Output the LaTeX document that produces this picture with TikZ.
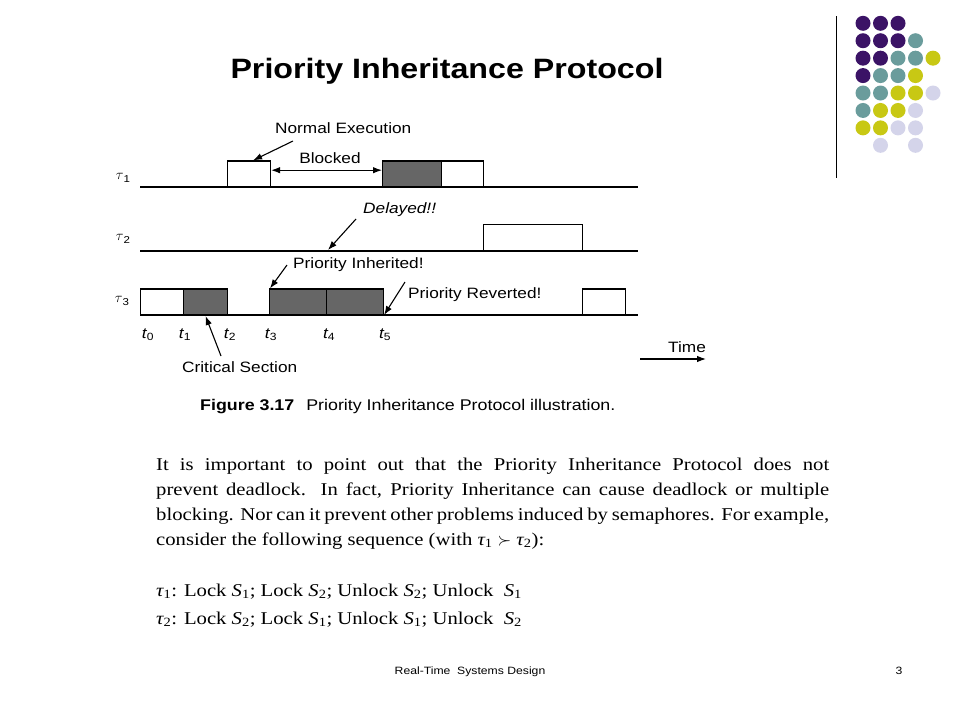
\documentclass[tikz,border=0pt]{standalone}
\usepackage{fontspec}
\setmainfont[FakeStretch=1.15]{Liberation Serif}
\newfontfamily\dsf[FakeStretch=1.15]{Liberation Sans}
\usetikzlibrary{arrows.meta,calc}
\definecolor{dpurple}{HTML}{3B1366}
\definecolor{dteal}{HTML}{6A9C9C}
\definecolor{dyellow}{HTML}{C8C814}
\definecolor{dlav}{HTML}{D4D4EA}
\definecolor{grayfill}{HTML}{666666}
\newcommand{\tsub}[1]{$\tau$\raisebox{-2.5pt}{\dsf\fontsize{10}{12}\selectfont #1}}
\begin{document}
\begin{tikzpicture}[x=1pt,y=-1pt,
  lbl/.style={font=\dsf\fontsize{15}{18}\selectfont, inner sep=0pt, anchor=base west},
  tlbl/.style={font=\dsf\itshape\fontsize{15}{18}\selectfont, inner sep=0pt, anchor=base},
  taul/.style={font=\fontsize{14}{16}\selectfont, inner sep=0pt},
  axisline/.style={line width=1.1pt},
  wbox/.style={draw, line width=1.1pt, fill=white, minimum height=25.5pt, inner sep=0pt, anchor=south west},
  gbox/.style={wbox, fill=grayfill},
  ptr/.style={line width=1.1pt, -{Latex[length=9pt,width=6.5pt]}},
  dptr/.style={line width=1.1pt, {Latex[length=9pt,width=6.5pt]}-{Latex[length=9pt,width=6.5pt]}},
  dot/.style={circle, minimum size=15pt, inner sep=0pt},
  para/.style={font=\fontsize{18}{21}\selectfont, inner sep=0pt, anchor=base west}
]
\useasboundingbox[fill=white] (0,0) rectangle (960,720);

% decoration
\coordinate (vt) at (836.5,16);
\coordinate (vb) at (836.5,178);
\draw[line width=1pt] (vt) -- (vb);
\foreach \c/\r/\col in {1/1/dpurple,2/1/dpurple,3/1/dpurple,
  1/2/dpurple,2/2/dpurple,3/2/dpurple,4/2/dteal,
  1/3/dpurple,2/3/dpurple,3/3/dteal,4/3/dteal,5/3/dyellow,
  1/4/dpurple,2/4/dteal,3/4/dteal,4/4/dyellow,
  1/5/dteal,2/5/dteal,3/5/dyellow,4/5/dyellow,5/5/dlav,
  1/6/dteal,2/6/dyellow,3/6/dyellow,4/6/dlav,
  1/7/dyellow,2/7/dyellow,3/7/dlav,4/7/dlav,
  2/8/dlav,4/8/dlav}
  \node[dot, fill=\col] (d\c-\r) at ({845.5+17.5*\c},{23.3+17.43*(\r-1)}) {};

% title
\node[font=\dsf\bfseries\fontsize{28}{32}\selectfont, inner sep=0pt, anchor=base] (title) at (447,78) {Priority Inheritance Protocol};

% time lines
\coordinate (l1s) at (140,187); \coordinate (l1e) at (638,187);
\coordinate (l2s) at (140,251); \coordinate (l2e) at (638,251);
\coordinate (l3s) at (140,315); \coordinate (l3e) at (638,315);
\draw[axisline] (l1s) -- (l1e);
\draw[axisline] (l2s) -- (l2e);
\draw[axisline] (l3s) -- (l3e);

\node[taul] (tau1) at (123,178) {\tsub{1}};
\node[taul] (tau2) at (123,239) {\tsub{2}};
\node[taul] (tau3) at (122,301) {\tsub{3}};

% boxes
\node[wbox, minimum width=43pt] (w1) at (227,187) {};
\node[gbox, minimum width=59pt] (g1) at (382,187) {};
\node[wbox, minimum width=42pt] (w1b) at (441,187) {};
\node[wbox, minimum width=99pt, minimum height=26pt] (w2) at (483,251) {};
\node[wbox, minimum width=43pt] (w3a) at (140,315) {};
\node[gbox, minimum width=44pt] (g3a) at (183,315) {};
\node[gbox, minimum width=57pt] (g3b) at (269,315) {};
\node[gbox, minimum width=57pt] (g3c) at (326,315) {};
\node[wbox, minimum width=43pt] (w3b) at (582,315) {};

% labels
\node[lbl] (ne) at (275,133) {Normal Execution};
\node[lbl, anchor=base] (bl) at (330,163) {Blocked};
\node[lbl, font=\dsf\itshape\fontsize{15}{18}\selectfont] (dl) at (363,213) {Delayed!!};
\node[lbl] (pi) at (293,268) {Priority Inherited!};
\node[lbl] (pr) at (408,298) {Priority Reverted!};
\node[lbl] (cs) at (182,372) {Critical Section};
\node[lbl] (tm) at (668,352) {Time};

\node[tlbl] (t0) at (148,338) {t\textsubscript{\upshape 0}};
\node[tlbl] (t1) at (185,338) {t\textsubscript{\upshape 1}};
\node[tlbl] (t2) at (230,338) {t\textsubscript{\upshape 2}};
\node[tlbl] (t3) at (271,338) {t\textsubscript{\upshape 3}};
\node[tlbl] (t4) at (329,338) {t\textsubscript{\upshape 4}};
\node[tlbl] (t5) at (385,338) {t\textsubscript{\upshape 5}};

% arrows
\coordinate (neT) at (293,141);
\draw[ptr] (neT) -- ([xshift=4pt]w1.north);
\draw[dptr] ([yshift=3.5pt]w1.east) -- ([yshift=3.5pt]g1.west);
\coordinate (dT) at (356,219);
\coordinate (dH) at (328,250);
\draw[ptr] (dT) -- (dH);
\coordinate (piT) at (287,265);
\draw[ptr] (piT) -- ([xshift=1pt]g3b.north west);
\coordinate (prT) at (405,282);
\draw[ptr] (prT) -- (g3c.south east);
\coordinate (csT) at (221,356);
\draw[ptr] (csT) -- ([yshift=-1pt]g3a.south);
\coordinate (tmT) at (640,359);
\coordinate (tmH) at (706,359);
\draw[ptr] (tmT) -- (tmH);

% caption
\node[font=\dsf\fontsize{15.5}{18}\selectfont, inner sep=0pt, anchor=base west] (cap) at (200,410)
  {\textbf{Figure 3.17}\hspace{12pt}Priority Inheritance Protocol illustration.};

% paragraph
\node[para] (p1) at (156,470) {\makebox[673pt][s]{It is important to point out that the Priority Inheritance Protocol does not}};
\node[para] (p2) at (156,495) {\makebox[673pt][s]{prevent deadlock. In fact, Priority Inheritance can cause deadlock or multiple}};
\node[para] (p3) at (156,520) {\makebox[673pt][s]{blocking. Nor can it prevent other problems induced by semaphores. For example,}};
\node[para] (p4) at (156,545) {consider the following sequence (with {\itshape τ}\textsubscript{1} $\succ$ {\itshape τ}\textsubscript{2}):};

\node[para] (s1) at (156,596) {{\itshape τ}\textsubscript{1}: Lock {\itshape S}\textsubscript{1}; Lock {\itshape S}\textsubscript{2}; Unlock {\itshape S}\textsubscript{2}; Unlock\ \ {\itshape S}\textsubscript{1}};
\node[para] (s2) at (156,624) {{\itshape τ}\textsubscript{2}: Lock {\itshape S}\textsubscript{2}; Lock {\itshape S}\textsubscript{1}; Unlock {\itshape S}\textsubscript{1}; Unlock\ \ {\itshape S}\textsubscript{2}};

% footer
\node[font=\dsf\fontsize{10.6}{12}\selectfont, inner sep=0pt, anchor=base] (foot) at (470,674) {Real-Time\ \ Systems Design};
\node[font=\dsf\fontsize{10.6}{12}\selectfont, inner sep=0pt, anchor=base] (pg) at (899,674) {3};
\end{tikzpicture}
\end{document}
